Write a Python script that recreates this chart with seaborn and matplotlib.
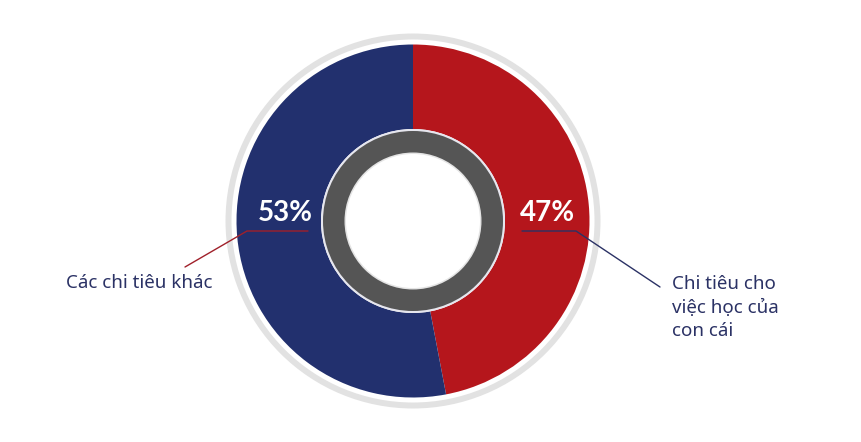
import matplotlib
matplotlib.use("Agg")
import matplotlib.pyplot as plt
import seaborn as sns
from matplotlib.patches import Circle

# Data
labels = ["Chi tiêu cho\nviệc học của\ncon cái", "Các chi tiêu khác"]
shares = [47, 53]
colors = ["#B5161C", "#22306E"]

sns.set_theme(style="white")
plt.rcParams['font.family'] = ['Noto Sans', 'DejaVu Sans']

W, H = 861, 442
fig = plt.figure(figsize=(W / 100, H / 100), dpi=100)
ax = fig.add_axes([0, 0, 1, 1])

cx, cy = 413, H - 221  # centre in pixel-like data units (y up)

# outer light ring
ax.add_patch(Circle((cx, cy), 184.5, fill=False, lw=6 * 0.72, ec="#E2E2E2"))

# main donut
ax.pie(shares, colors=colors, center=(cx, cy), radius=176.5,
       startangle=90, counterclock=False,
       wedgeprops=dict(width=176.5 - 92, edgecolor="none"))

# inner grey ring with pale borders
ax.add_patch(Circle((cx, cy), 92, color="#E6E6EE", lw=0))
ax.add_patch(Circle((cx, cy), 90, color="#555555", lw=0))
ax.add_patch(Circle((cx, cy), 68.5, color="#E4E4E4", lw=0))
ax.add_patch(Circle((cx, cy), 67, color="white", lw=0))

# percentage labels
pct_font = dict(color="white", fontsize=20, fontweight="bold",
                family=["Lato", "DejaVu Sans"], ha="center", va="center")
ax.text(cx + 134, H - 213, f"{shares[0]}%", **pct_font)
ax.text(cx - 128, H - 213, f"{shares[1]}%", **pct_font)

# leader lines
ax.plot([522, 576, 660], [H - 231, H - 231, H - 287], color="#2B3265", lw=1)
ax.plot([308, 247, 185], [H - 231, H - 231, H - 267], color="#A0202A", lw=1)

# category labels
ax.text(672, H - 275, labels[0], color="#2B3265", fontsize=13.5,
        ha="left", va="top", linespacing=1.4)
ax.text(213, H - 283, labels[1], color="#2B3265", fontsize=13.5,
        ha="right", va="center")

ax.set_xlim(0, W)
ax.set_ylim(0, H)
ax.set_aspect("equal")
ax.axis("off")

fig.savefig("out.png", dpi=100, facecolor="white")
